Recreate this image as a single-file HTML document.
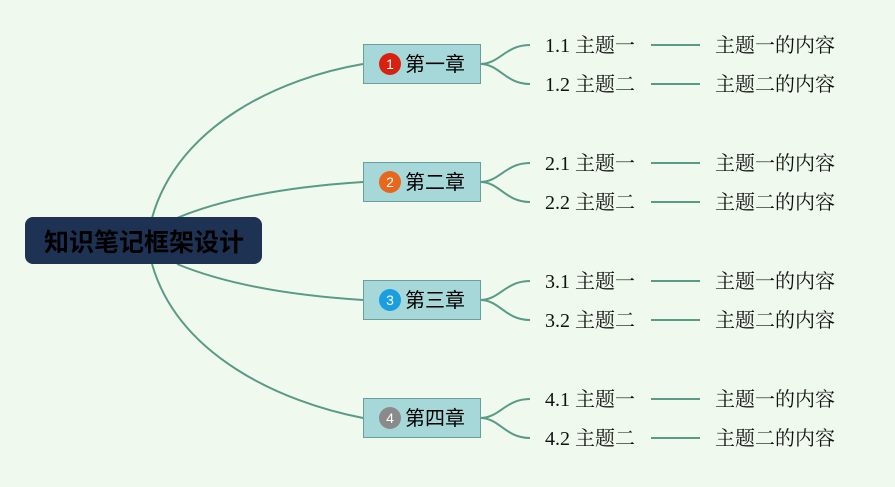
<!DOCTYPE html>
<html><head><meta charset="utf-8"><style>
body{margin:0;width:895px;height:482px;background:#f0f9ee;overflow:hidden}
text{font-family:"Liberation Serif","Noto Serif CJK SC",serif}
.cj{font-family:"Liberation Sans","Noto Sans CJK SC",sans-serif}
</style></head><body>
<svg width="895" height="482" viewBox="0 0 895 482" xmlns="http://www.w3.org/2000/svg">
<rect width="895" height="482" fill="#f0f9ee"/>
<g fill="none" stroke="#5a9a88" stroke-width="2">
<path d="M152,218 C178,125 280,78 363,64"/>
<path d="M177,218 C230,196 300,186 363,182"/>
<path d="M177,264 C230,286 300,296 363,300"/>
<path d="M152,264 C178,355 280,402 363,418"/>
<g id="sub">
<path d="M480,64 C500,64 505,45 530,45"/>
<path d="M480,64 C500,64 505,84 530,84"/>
<line x1="651" y1="45" x2="700" y2="45"/>
<line x1="651" y1="84" x2="700" y2="84"/>
</g>
<use href="#sub" y="118"/>
<use href="#sub" y="236"/>
<use href="#sub" y="354"/>
</g>
<rect x="25" y="217" width="237" height="47" rx="8" fill="#1e3354"/>
<text x="144" y="251" text-anchor="middle" class="cj" font-size="25" font-weight="bold" fill="#000">知识笔记框架设计</text>
<g class="cj" font-size="20">
<g stroke="#6a9f99" stroke-width="1" fill="#a6d8d9">
<rect x="363.5" y="44.5" width="117" height="39"/>
<rect x="363.5" y="162.5" width="117" height="39"/>
<rect x="363.5" y="280.5" width="117" height="39"/>
<rect x="363.5" y="398.5" width="117" height="39"/>
</g>
<circle cx="390" cy="64" r="11" fill="#d9210f"/>
<circle cx="390" cy="182" r="11" fill="#e8671a"/>
<circle cx="390" cy="300" r="11" fill="#1a9ee0"/>
<circle cx="390" cy="418" r="11" fill="#8a8a8a"/>
<g fill="#fff" font-size="14" text-anchor="middle">
<text class="cj" x="390" y="69">1</text><text class="cj" x="390" y="187">2</text>
<text class="cj" x="390" y="305">3</text><text class="cj" x="390" y="423">4</text>
</g>
<g fill="#000">
<text class="cj" x="405" y="71">第一章</text>
<text class="cj" x="405" y="189">第二章</text>
<text class="cj" x="405" y="307">第三章</text>
<text class="cj" x="405" y="425">第四章</text>
</g>
</g>
<g font-size="20" fill="#111">
<text x="545" y="52">1.1 主题一</text><text x="545" y="91">1.2 主题二</text>
<text x="545" y="170">2.1 主题一</text><text x="545" y="209">2.2 主题二</text>
<text x="545" y="288">3.1 主题一</text><text x="545" y="327">3.2 主题二</text>
<text x="545" y="406">4.1 主题一</text><text x="545" y="445">4.2 主题二</text>
<text x="715" y="52">主题一的内容</text><text x="715" y="91">主题二的内容</text>
<text x="715" y="170">主题一的内容</text><text x="715" y="209">主题二的内容</text>
<text x="715" y="288">主题一的内容</text><text x="715" y="327">主题二的内容</text>
<text x="715" y="406">主题一的内容</text><text x="715" y="445">主题二的内容</text>
</g>
</svg>
</body></html>
